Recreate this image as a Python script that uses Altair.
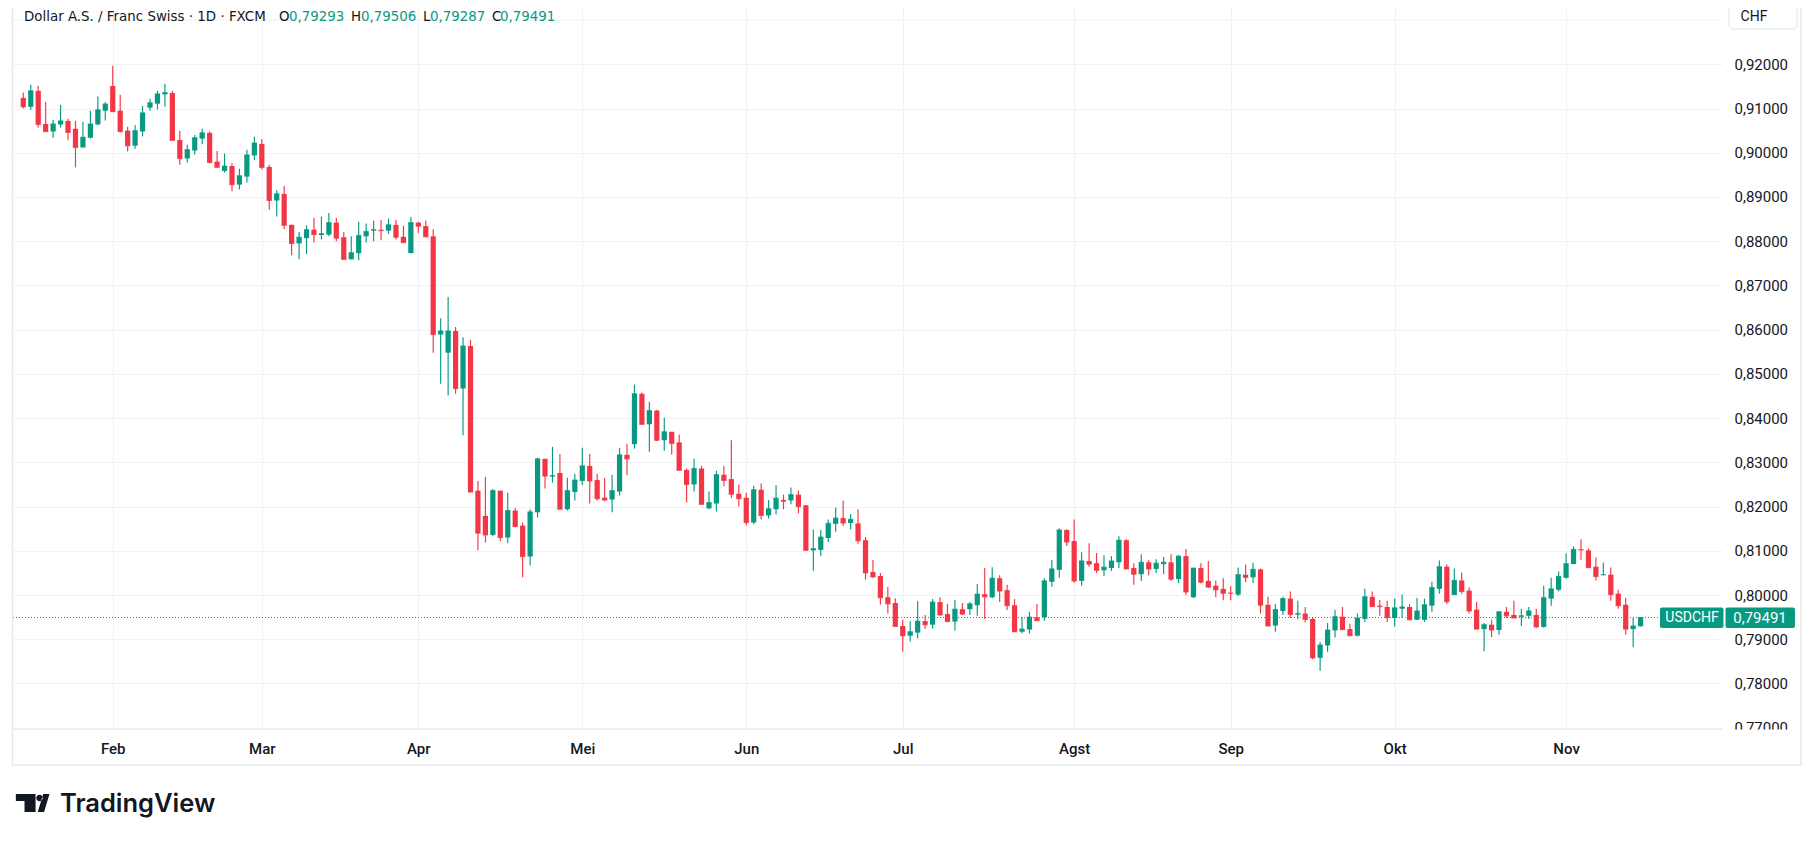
import altair as alt
import pandas as pd
import numpy as np

# ---- OHLC values (USD/CHF daily, FXCM) ----
opens = [
    0.9124, 0.9104, 0.9140, 0.9065, 0.9048, 0.9064, 0.9072, 0.9054, 0.9012, 0.9034,
    0.9064, 0.9095, 0.9151, 0.9095, 0.9050, 0.9016, 0.9048, 0.9102, 0.9111, 0.9132,
    0.9135, 0.9029, 0.8987, 0.9005, 0.9032, 0.9045, 0.8980, 0.8959, 0.8970, 0.8928,
    0.8946, 0.8994, 0.9020, 0.8968, 0.8892, 0.8907, 0.8837, 0.8795, 0.8807, 0.8826,
    0.8814, 0.8815, 0.8842, 0.8809, 0.8759, 0.8773, 0.8811, 0.8824, 0.8826, 0.8824,
    0.8837, 0.8810, 0.8773, 0.8842, 0.8834, 0.8811, 0.8589, 0.8548, 0.8597, 0.8467,
    0.8563, 0.8236, 0.8179, 0.8136, 0.8236, 0.8130, 0.8191, 0.8157, 0.8087, 0.8187,
    0.8308, 0.8268, 0.8276, 0.8194, 0.8233, 0.8258, 0.8292, 0.8260, 0.8220, 0.8216,
    0.8234, 0.8317, 0.8341, 0.8455, 0.8386, 0.8417, 0.8350, 0.8369, 0.8345, 0.8283,
    0.8250, 0.8286, 0.8196, 0.8207, 0.8272, 0.8262, 0.8229, 0.8220, 0.8164, 0.8238,
    0.8180, 0.8194, 0.8215, 0.8214, 0.8227, 0.8203, 0.8101, 0.8102, 0.8129, 0.8161,
    0.8174, 0.8163, 0.8162, 0.8124, 0.8052, 0.8043, 0.7995, 0.7982, 0.7930, 0.7908,
    0.7915, 0.7941, 0.7933, 0.7984, 0.7957, 0.7940, 0.7968, 0.7968, 0.7977, 0.8002,
    0.7995, 0.8038, 0.8011, 0.7977, 0.7917, 0.7922, 0.7950, 0.7950, 0.8030, 0.8057,
    0.8147, 0.8122, 0.8032, 0.8077, 0.8072, 0.8056, 0.8061, 0.8074, 0.8124, 0.8061,
    0.8047, 0.8074, 0.8059, 0.8070, 0.8074, 0.8036, 0.8088, 0.7995, 0.8061, 0.8032,
    0.8021, 0.8014, 0.8005, 0.8001, 0.8046, 0.8040, 0.8058, 0.7978, 0.7931, 0.7964,
    0.7992, 0.7956, 0.7958, 0.7946, 0.7858, 0.7886, 0.7920, 0.7951, 0.7923, 0.7908,
    0.7946, 0.7996, 0.7976, 0.7973, 0.7948, 0.7969, 0.7973, 0.7944, 0.7944, 0.7976,
    0.8014, 0.8064, 0.8000, 0.8033, 0.8010, 0.7967, 0.7923, 0.7933, 0.7921, 0.7962,
    0.7955, 0.7951, 0.7953, 0.7955, 0.7928, 0.7992, 0.8012, 0.8039, 0.8070, 0.8103,
    0.8101, 0.8064, 0.8045, 0.8046, 0.8003, 0.7978, 0.7923, 0.79293,
]
highs = [
    0.9136, 0.9154, 0.9151, 0.9115, 0.9074, 0.9108, 0.9077, 0.9072, 0.9070, 0.9095,
    0.9127, 0.9115, 0.9197, 0.9131, 0.9059, 0.9063, 0.9106, 0.9122, 0.9140, 0.9156,
    0.9140, 0.9050, 0.9018, 0.9040, 0.9054, 0.9048, 0.9004, 0.8998, 0.8977, 0.8964,
    0.9007, 0.9036, 0.9031, 0.8973, 0.8915, 0.8925, 0.8838, 0.8821, 0.8836, 0.8853,
    0.8856, 0.8864, 0.8853, 0.8821, 0.8811, 0.8844, 0.8840, 0.8846, 0.8848, 0.8851,
    0.8848, 0.8835, 0.8855, 0.8844, 0.8847, 0.8827, 0.8626, 0.8674, 0.8606, 0.8583,
    0.8577, 0.8258, 0.8267, 0.8240, 0.8236, 0.8231, 0.8197, 0.8164, 0.8194, 0.8310,
    0.8308, 0.8335, 0.8319, 0.8265, 0.8274, 0.8333, 0.8319, 0.8274, 0.8265, 0.8272,
    0.8333, 0.8342, 0.8476, 0.8458, 0.8437, 0.8419, 0.8401, 0.8369, 0.8363, 0.8286,
    0.8308, 0.8292, 0.8234, 0.8281, 0.8292, 0.8350, 0.8250, 0.8231, 0.8247, 0.8252,
    0.8215, 0.8249, 0.8227, 0.8243, 0.8236, 0.8203, 0.8148, 0.8147, 0.8171, 0.8198,
    0.8214, 0.8183, 0.8194, 0.8131, 0.8079, 0.8050, 0.8018, 0.7993, 0.7944, 0.7941,
    0.7986, 0.7955, 0.7991, 0.7995, 0.7980, 0.7989, 0.7982, 0.7984, 0.8025, 0.8061,
    0.8063, 0.8045, 0.8023, 0.7991, 0.7950, 0.7962, 0.7980, 0.8038, 0.8079, 0.8151,
    0.8149, 0.8171, 0.8097, 0.8117, 0.8095, 0.8090, 0.8088, 0.8133, 0.8126, 0.8072,
    0.8092, 0.8079, 0.8081, 0.8086, 0.8092, 0.8090, 0.8104, 0.8061, 0.8072, 0.8077,
    0.8033, 0.8038, 0.8020, 0.8062, 0.8069, 0.8073, 0.8060, 0.7996, 0.7980, 0.7996,
    0.8008, 0.7987, 0.7973, 0.7948, 0.7894, 0.7937, 0.7967, 0.7973, 0.7935, 0.7958,
    0.8014, 0.8008, 0.7989, 0.7987, 0.7992, 0.8001, 0.7980, 0.7994, 0.7992, 0.8030,
    0.8078, 0.8069, 0.8060, 0.8051, 0.8017, 0.7985, 0.7937, 0.7944, 0.7964, 0.7973,
    0.7987, 0.7969, 0.7973, 0.7969, 0.8021, 0.8039, 0.8053, 0.8094, 0.8110, 0.8126,
    0.8105, 0.8085, 0.8073, 0.8062, 0.8012, 0.7994, 0.7948, 0.79506,
]
lows = [
    0.9100, 0.9097, 0.9057, 0.9048, 0.9034, 0.9057, 0.9028, 0.8967, 0.9012, 0.9032,
    0.9062, 0.9073, 0.9093, 0.9046, 0.9003, 0.9009, 0.9037, 0.9095, 0.9098, 0.9104,
    0.9028, 0.8973, 0.8978, 0.8996, 0.9019, 0.8976, 0.8967, 0.8955, 0.8913, 0.8917,
    0.8933, 0.8983, 0.8962, 0.8871, 0.8856, 0.8827, 0.8768, 0.8759, 0.8771, 0.8797,
    0.8804, 0.8811, 0.8800, 0.8759, 0.8759, 0.8757, 0.8797, 0.8800, 0.8802, 0.8817,
    0.8804, 0.8797, 0.8773, 0.8818, 0.8810, 0.8548, 0.8478, 0.8451, 0.8455, 0.8361,
    0.8232, 0.8101, 0.8119, 0.8133, 0.8121, 0.8117, 0.8153, 0.8040, 0.8067, 0.8175,
    0.8241, 0.8254, 0.8194, 0.8191, 0.8214, 0.8248, 0.8207, 0.8214, 0.8212, 0.8187,
    0.8225, 0.8271, 0.8331, 0.8386, 0.8324, 0.8348, 0.8326, 0.8317, 0.8282, 0.8209,
    0.8234, 0.8205, 0.8194, 0.8189, 0.8246, 0.8219, 0.8200, 0.8157, 0.8160, 0.8171,
    0.8173, 0.8182, 0.8194, 0.8205, 0.8185, 0.8101, 0.8055, 0.8089, 0.8120, 0.8143,
    0.8156, 0.8149, 0.8116, 0.8035, 0.8039, 0.7978, 0.7958, 0.7929, 0.7872, 0.7895,
    0.7902, 0.7924, 0.7924, 0.7953, 0.7940, 0.7920, 0.7955, 0.7955, 0.7953, 0.7946,
    0.7993, 0.7984, 0.7966, 0.7917, 0.7913, 0.7913, 0.7942, 0.7942, 0.8019, 0.8039,
    0.8111, 0.8028, 0.8021, 0.8064, 0.8050, 0.8043, 0.8054, 0.8061, 0.8059, 0.8023,
    0.8032, 0.8045, 0.8050, 0.8047, 0.8032, 0.8027, 0.8000, 0.7993, 0.8026, 0.8016,
    0.7995, 0.7988, 0.7988, 0.7998, 0.8029, 0.8027, 0.7958, 0.7930, 0.7917, 0.7955,
    0.7948, 0.7945, 0.7938, 0.7855, 0.7829, 0.7872, 0.7904, 0.7922, 0.7908, 0.7906,
    0.7939, 0.7973, 0.7953, 0.7939, 0.7929, 0.7948, 0.7944, 0.7944, 0.7939, 0.7962,
    0.8003, 0.7980, 0.8000, 0.8003, 0.7958, 0.7923, 0.7873, 0.7905, 0.7910, 0.7948,
    0.7948, 0.7930, 0.7946, 0.7926, 0.7926, 0.7976, 0.8008, 0.8037, 0.8070, 0.8080,
    0.8062, 0.8033, 0.8045, 0.7987, 0.7969, 0.7910, 0.7882, 0.79287,
]
closes = [
    0.9104, 0.9140, 0.9064, 0.9048, 0.9065, 0.9072, 0.9046, 0.9012, 0.9035, 0.9065,
    0.9097, 0.9110, 0.9093, 0.9048, 0.9016, 0.9050, 0.9090, 0.9113, 0.9133, 0.9136,
    0.9028, 0.8987, 0.9007, 0.9034, 0.9045, 0.8978, 0.8967, 0.8970, 0.8928, 0.8948,
    0.8995, 0.9022, 0.8967, 0.8892, 0.8907, 0.8836, 0.8795, 0.8809, 0.8826, 0.8815,
    0.8817, 0.8842, 0.8807, 0.8759, 0.8774, 0.8813, 0.8822, 0.8826, 0.8824, 0.8837,
    0.8809, 0.8797, 0.8842, 0.8834, 0.8810, 0.8589, 0.8597, 0.8597, 0.8467, 0.8563,
    0.8233, 0.8140, 0.8136, 0.8236, 0.8130, 0.8191, 0.8155, 0.8087, 0.8188, 0.8308,
    0.8269, 0.8270, 0.8194, 0.8236, 0.8260, 0.8292, 0.8258, 0.8218, 0.8215, 0.8236,
    0.8317, 0.8308, 0.8455, 0.8386, 0.8417, 0.8350, 0.8369, 0.8343, 0.8282, 0.8250,
    0.8286, 0.8205, 0.8209, 0.8272, 0.8259, 0.8228, 0.8218, 0.8164, 0.8238, 0.8180,
    0.8195, 0.8219, 0.8212, 0.8227, 0.8200, 0.8101, 0.8105, 0.8131, 0.8162, 0.8174,
    0.8163, 0.8171, 0.8123, 0.8050, 0.8041, 0.7994, 0.7980, 0.7929, 0.7908, 0.7917,
    0.7941, 0.7933, 0.7984, 0.7955, 0.7940, 0.7968, 0.7957, 0.7980, 0.8002, 0.7996,
    0.8038, 0.8009, 0.7976, 0.7917, 0.7923, 0.7950, 0.7942, 0.8032, 0.8059, 0.8147,
    0.8120, 0.8032, 0.8077, 0.8070, 0.8056, 0.8063, 0.8077, 0.8124, 0.8059, 0.8047,
    0.8074, 0.8059, 0.8072, 0.8074, 0.8036, 0.8088, 0.8007, 0.8061, 0.8029, 0.8018,
    0.8012, 0.8004, 0.8004, 0.8046, 0.8040, 0.8058, 0.7977, 0.7930, 0.7967, 0.7992,
    0.7956, 0.7958, 0.7945, 0.7858, 0.7887, 0.7921, 0.7951, 0.7922, 0.7908, 0.7948,
    0.7996, 0.7974, 0.7974, 0.7949, 0.7971, 0.7973, 0.7944, 0.7964, 0.7978, 0.8017,
    0.8064, 0.7985, 0.8033, 0.8008, 0.7964, 0.7923, 0.7933, 0.7921, 0.7962, 0.7953,
    0.7948, 0.7953, 0.7964, 0.7928, 0.7994, 0.8014, 0.8042, 0.8071, 0.8103, 0.8102,
    0.8062, 0.8042, 0.8046, 0.8001, 0.7976, 0.7923, 0.7930, 0.79491,
]

month_idx = [12, 32, 53, 75, 97, 118, 141, 162, 184, 207]
month_names = ["Feb", "Mar", "Apr", "Mei", "Jun", "Jul", "Agst", "Sep", "Okt", "Nov"]
price_ticks = [0.77, 0.78, 0.79, 0.80, 0.81, 0.82, 0.83, 0.84, 0.85, 0.86,
               0.87, 0.88, 0.89, 0.90, 0.91, 0.92]
extra_grid = [0.93]

symbol_name = "USDCHF"
currency = "CHF"
title_main = "Dollar A.S. / Franc Swiss · 1D · FXCM"

UP = "#089981"
DOWN = "#F23645"
TXT = "#131722"
GRID = "#F0F1F3"
FONT = "Roboto"
HFONT = "DejaVu Sans"

df = pd.DataFrame({
    "i": np.arange(len(opens)),
    "open": opens, "high": highs, "low": lows, "close": closes,
})
df["dir"] = np.where(df["close"] >= df["open"], "up", "down")

last_o, last_h, last_l, last_c = opens[-1], highs[-1], lows[-1], closes[-1]


def fmt(v):
    return f"{v:.5f}".replace(".", ",")


label_expr = ("[" + ",".join(f"'{n}'" for n in month_names) + "][indexof(["
              + ",".join(str(m) for m in month_idx) + "], datum.value)]")

x_enc = alt.X(
    "i:Q",
    scale=alt.Scale(domain=[-0.712, 227.25], nice=False, zero=False),
    axis=alt.Axis(values=month_idx, labelExpr=label_expr, title=None,
                  grid=True, gridColor=GRID, gridWidth=1, ticks=False,
                  domain=True, domainColor="#ECEDEF", domainWidth=1,
                  labelFont=FONT, labelFontSize=15, labelFontWeight=500,
                  labelColor=TXT, labelBaseline="middle", labelPadding=19,
                  labelFlush=False, labelOverlap=False, zindex=0),
)

y_scale = alt.Scale(domain=[0.76971, 0.93273], nice=False, zero=False)
y_axis = alt.Axis(orient="right", values=price_ticks,
                  labelExpr="replace(format(datum.value, '.5f'), '.', ',')",
                  title=None, grid=True, gridColor=GRID, gridWidth=1,
                  ticks=False, domain=False, labelFont=FONT, labelFontSize=15,
                  labelColor=TXT, labelPadding=12, labelAlign="left",
                  labelFlush=False, labelOverlap=False, zindex=0)

color_enc = alt.Color("dir:N", scale=alt.Scale(domain=["up", "down"], range=[UP, DOWN]),
                      legend=None)

base = alt.Chart(df).encode(x=x_enc, color=color_enc)

wicks = base.mark_rule(strokeWidth=1.15).encode(
    y=alt.Y("low:Q", scale=y_scale, axis=y_axis), y2="high:Q")
bodies = base.mark_bar(size=5.2).encode(
    y=alt.Y("open:Q", scale=y_scale, axis=y_axis), y2="close:Q")
doji = base.mark_tick(orient="horizontal", size=5.2, thickness=1.2).encode(
    y=alt.Y("close:Q", scale=y_scale, axis=y_axis))

one = pd.DataFrame({"k": [0]})

top_grid = alt.Chart(pd.DataFrame({"g": extra_grid})).mark_rule(
    color=GRID, strokeWidth=1).encode(
    y=alt.Y("g:Q", scale=y_scale, axis=y_axis), x=alt.value(0), x2=alt.value(1709))

price_line = alt.Chart(one).mark_rule(color=UP, strokeWidth=1, strokeDash=[1, 2]).encode(
    y=alt.datum(last_c, scale=y_scale), x=alt.value(0), x2=alt.value(1647))

# cover for the clipped lower half of the bottom price label
cover = alt.Chart(one).mark_rect(color="white").encode(
    x=alt.value(1711), x2=alt.value(1787), y=alt.value(721.5), y2=alt.value(756))

frame = alt.Chart(one).mark_rect(fill="white", fillOpacity=0, stroke="#E6E8EC",
                                 strokeWidth=1.5).encode(
    x=alt.value(-0.5), x2=alt.value(1788), y=alt.value(-12), y2=alt.value(757))

chf_box = alt.Chart(one).mark_rect(fill="white", stroke="#E0E3EB", strokeWidth=1,
                                   cornerRadius=4).encode(
    x=alt.value(1716), x2=alt.value(1784), y=alt.value(-10), y2=alt.value(21))
chf_txt = alt.Chart(one).mark_text(text=currency, font=FONT, fontSize=14, color=TXT,
                                   align="center", baseline="alphabetic").encode(
    x=alt.value(1741), y=alt.value(12.5))

sym_box = alt.Chart(one).mark_rect(fill=UP, cornerRadius=2).encode(
    x=alt.value(1647), x2=alt.value(1710.5), y=alt.value(599.5), y2=alt.value(620))
sym_txt = alt.Chart(one).mark_text(text=symbol_name, font=FONT, fontSize=14, color="white",
                                   align="center", baseline="middle").encode(
    x=alt.value(1679), y=alt.datum(last_c, scale=y_scale))
px_box = alt.Chart(one).mark_rect(fill=UP, cornerRadius=2).encode(
    x=alt.value(1712.5), x2=alt.value(1782), y=alt.value(599.5), y2=alt.value(620))
px_txt = alt.Chart(one).mark_text(text=fmt(last_c), font=FONT, fontSize=15, color="white",
                                  align="center", baseline="middle").encode(
    x=alt.value(1747), y=alt.datum(last_c, scale=y_scale))

# header legend line
head = []
segments = [
    (title_main, 11, TXT), ("O", 266, TXT), (fmt(last_o), 276, UP),
    ("H", 338, TXT), (fmt(last_h), 348, UP), ("L", 410, TXT),
    (fmt(last_l), 417, UP), ("C", 479, TXT), (fmt(last_c), 487, UP),
]
for txt, xp, col in segments:
    head.append(alt.Chart(one).mark_text(text=txt, font=HFONT, fontSize=13.4, color=col,
                                         align="left", baseline="alphabetic").encode(
        x=alt.value(xp), y=alt.value(12.5)))

# TradingView logo
logo_path = ("M-0.98,-0.53L0.18,-0.53L0.18,0.53L-0.47,0.53L-0.47,-0.12L-0.98,-0.12Z "
             "M0.22,-0.29A0.19,0.19,0,1,0,0.60,-0.29A0.19,0.19,0,1,0,0.22,-0.29Z "
             "M0.63,-0.53L1,-0.53L0.68,0.53L0.31,0.53Z")
logo_icon = alt.Chart(one).mark_point(shape=logo_path, filled=True, size=1156,
                                      color=TXT, opacity=1, strokeWidth=0).encode(
    x=alt.value(19.5), y=alt.value(795))
logo_txt = alt.Chart(one).mark_text(text="TradingView", font="Inter", fontSize=25.5,
                                    fontWeight=600, color=TXT, align="left",
                                    baseline="alphabetic").encode(
    x=alt.value(47), y=alt.value(804))

chart = alt.layer(
    top_grid, price_line, wicks, bodies, doji, cover, frame, chf_box, chf_txt,
    sym_box, sym_txt, px_box, px_txt, *head, logo_icon, logo_txt,
).properties(
    width=1709, height=721,
    padding={"left": 5, "top": 0, "right": 83, "bottom": 104},
    autosize=alt.AutoSizeParams(type="none"),
    background="white",
).configure_view(stroke=None)

chart.save("out.html", embed_options={"renderer": "svg", "actions": False})
